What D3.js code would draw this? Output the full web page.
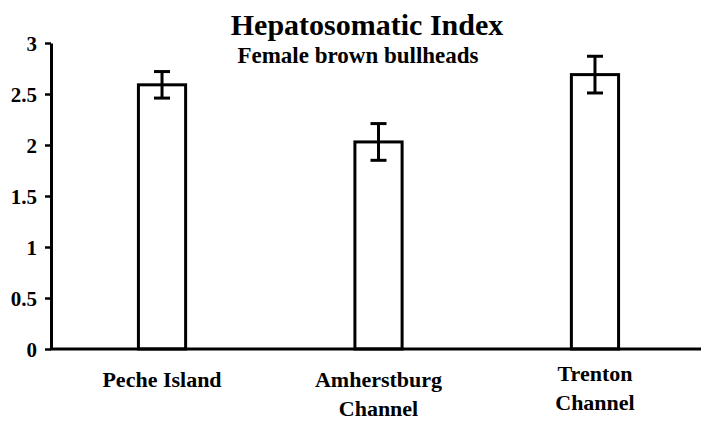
<!DOCTYPE html>
<html>
<head>
<meta charset="utf-8">
<script src="https://cdn.jsdelivr.net/npm/d3@7"></script>
<style>
  body { margin: 0; background: #fff; }
  text { font-family: "Liberation Serif", "Times New Roman", serif; font-weight: bold; fill: #000; }
</style>
</head>
<body>
<svg id="chart" width="701" height="423"></svg>
<script>
// data
const sites = ["Peche Island", "Amherstburg Channel", "Trenton Channel"]
const siteLabels = [["Peche Island"], ["Amherstburg", "Channel"], ["Trenton", "Channel"]]
const hsi = [2.59, 2.03, 2.69]
const hsiErr = [0.13, 0.18, 0.18]
const yTicks = [0, 0.5, 1, 1.5, 2, 2.5, 3]

const svg = d3.select("#chart")

const x = d3.scaleBand()
    .domain(sites)
    .range([54, 703])
    .paddingInner(0.782)
    .paddingOuter(0.39)

const y = d3.scaleLinear()
    .domain([0, 3])
    .range([349, 43])

// y axis
const yAxis = svg.append("g")
    .attr("transform", "translate(51,0)")
    .call(d3.axisLeft(y).tickValues(yTicks).tickFormat(d => d).tickSize(6).tickSizeOuter(0).tickPadding(8))
yAxis.select(".domain").attr("stroke", "#000").attr("stroke-width", 3)
yAxis.selectAll(".tick line").attr("stroke", "#000").attr("stroke-width", 2.5)
yAxis.selectAll(".tick text").style("font-size", "21px").attr("dy", "0.35em")

// bars
svg.selectAll(".bar")
    .data(hsi)
    .enter().append("rect")
    .attr("class", "bar")
    .attr("x", (d, i) => x(sites[i]))
    .attr("y", d => y(d))
    .attr("width", x.bandwidth())
    .attr("height", d => y(0) - y(d))
    .attr("fill", "#fff")
    .attr("stroke", "#000")
    .attr("stroke-width", 3)

// error bars
const eb = svg.selectAll(".err")
    .data(hsi)
    .enter().append("g")
    .attr("class", "err")
    .attr("transform", (d, i) => `translate(${x(sites[i]) + x.bandwidth() / 2},0)`)

eb.append("line")
    .attr("y1", (d, i) => y(d + hsiErr[i]))
    .attr("y2", (d, i) => y(d - hsiErr[i]))
    .attr("stroke", "#000").attr("stroke-width", 3)
eb.append("line")
    .attr("x1", -8).attr("x2", 8)
    .attr("y1", (d, i) => y(d + hsiErr[i]))
    .attr("y2", (d, i) => y(d + hsiErr[i]))
    .attr("stroke", "#000").attr("stroke-width", 3)
eb.append("line")
    .attr("x1", -8).attr("x2", 8)
    .attr("y1", (d, i) => y(d - hsiErr[i]))
    .attr("y2", (d, i) => y(d - hsiErr[i]))
    .attr("stroke", "#000").attr("stroke-width", 3)

// baseline
svg.append("line")
    .attr("x1", 50).attr("x2", 701)
    .attr("y1", y(0)).attr("y2", y(0))
    .attr("stroke", "#000").attr("stroke-width", 3)

// category labels
const lab = svg.selectAll(".cat")
    .data(siteLabels)
    .enter().append("text")
    .attr("class", "cat")
    .attr("text-anchor", "middle")
    .style("font-size", "22px")
    .attr("transform", (d, i) => `translate(${x(sites[i]) + x.bandwidth() / 2},${i == 2 ? 381 : 387})`)
lab.selectAll("tspan")
    .data(d => d)
    .enter().append("tspan")
    .attr("x", 0)
    .attr("dy", (d, j) => j == 0 ? 0 : 29)
    .text(d => d)

// titles
svg.append("text")
    .attr("x", 367).attr("y", 35)
    .attr("text-anchor", "middle")
    .style("font-size", "30px")
    .text("Hepatosomatic Index")
svg.append("text")
    .attr("x", 358).attr("y", 63)
    .attr("text-anchor", "middle")
    .style("font-size", "23px")
    .text("Female brown bullheads")
</script>
</body>
</html>
